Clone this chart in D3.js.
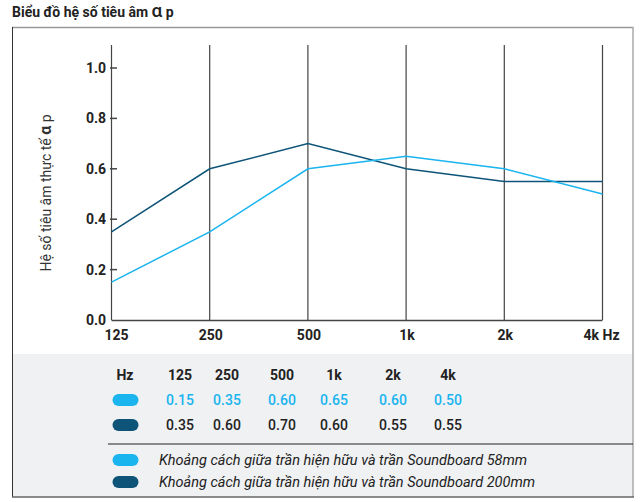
<!DOCTYPE html>
<html><head><meta charset="utf-8">
<script src="https://cdn.jsdelivr.net/npm/d3@7"></script>
<style>
html,body{margin:0;padding:0;background:#fff;}
svg{display:block;font-family:Roboto,"Noto Sans",sans-serif;}
</style></head>
<body>
<svg id="c" width="641" height="502"></svg>
<script>
const freqs = ["125","250","500","1k","2k","4k"];
const axisLabels = ["125","250","500","1k","2k","4k Hz"];
const series58 = [0.15,0.35,0.60,0.65,0.60,0.50];
const series200 = [0.35,0.60,0.70,0.60,0.55,0.55];
const yTicks = [0,0.2,0.4,0.6,0.8,1.0];
const legendLabels = ["Khoảng cách giữa trần hiện hữu và trần Soundboard 58mm","Khoảng cách giữa trần hiện hữu và trần Soundboard 200mm"];
const colors = ["#1ab4ef","#0d5478"];

const svg = d3.select("#c");
// title
const t = svg.append("text").attr("x",12).attr("y",17).attr("font-size",14).attr("font-weight",700).attr("fill","#222");
t.append("tspan").text("Biểu đồ hệ số tiêu âm ");
t.append("tspan").attr("font-size",19).attr("font-weight",500).text("α");
t.append("tspan").text(" p");

// gray panel
svg.append("rect").attr("x",12).attr("y",354).attr("width",621).attr("height",143).attr("fill","#f0f1f3");
// frame
svg.append("line").attr("x1",12).attr("x2",633.5).attr("y1",27.5).attr("y2",27.5).attr("stroke","#999").attr("stroke-width",1.5);
svg.append("line").attr("x1",633).attr("x2",633).attr("y1",27).attr("y2",497).attr("stroke","#aaa").attr("stroke-width",1.5);
svg.append("line").attr("x1",12.5).attr("x2",12.5).attr("y1",27).attr("y2",497).attr("stroke","#333").attr("stroke-width",1);
svg.append("line").attr("x1",12).attr("x2",634).attr("y1",497).attr("y2",497).attr("stroke","#666").attr("stroke-width",1.5);

const x = d3.scalePoint().domain(freqs).range([111.5,602.5]);
const y = d3.scaleLinear().domain([0,1]).range([320,68]);

const g = svg.append("g");
// vertical grid lines
g.selectAll(".vl").data(freqs).join("line")
  .attr("x1",d=>x(d)).attr("x2",d=>x(d)).attr("y1",45).attr("y2",320)
  .attr("stroke","#444").attr("stroke-width",1.2);
// bottom axis line
g.append("line").attr("x1",x("125")).attr("x2",x("4k")).attr("y1",320.5).attr("y2",320.5).attr("stroke","#444").attr("stroke-width",1.5);

// y axis
const ya = d3.axisLeft(y).tickValues(yTicks).tickFormat(d3.format(".1f")).tickSize(0).tickPadding(0);
const yg = g.append("g").attr("transform","translate(106,0)").call(ya);
yg.select(".domain").remove();
yg.selectAll("text").attr("font-size",14).attr("font-weight",700).attr("fill","#222").attr("font-family","Roboto");
g.selectAll(".yt").data(yTicks.filter(d=>d>0)).join("line")
  .attr("x1",110).attr("x2",117).attr("y1",d=>y(d)).attr("y2",d=>y(d)).attr("stroke","#444").attr("stroke-width",1.5);

// x labels
g.selectAll(".xl").data(freqs).join("text")
  .attr("x",(d,i)=> i===0 ? x(d)+5 : (i===5 ? x(d)+17 : x(d)+1))
  .attr("y",340).attr("text-anchor",(d,i)=> i===5 ? "end":"middle")
  .attr("font-size",14).attr("font-weight",700).attr("fill","#222")
  .text((d,i)=>axisLabels[i]);

// y title
const yt = svg.append("text").attr("transform","translate(51,193) rotate(-90)")
  .attr("text-anchor","middle").attr("font-size",14).attr("fill","#333");
yt.append("tspan").text("Hệ số tiêu âm thực tế ");
yt.append("tspan").attr("font-weight",700).attr("font-size",16).text("α");
yt.append("tspan").text(" p");

// lines
const line = d3.line().x((d,i)=>x(freqs[i])).y(d=>y(d));
[series200, series58].forEach((s,k)=>{
  g.append("path").attr("d",line(s)).attr("fill","none")
   .attr("stroke", k===0 ? colors[1] : colors[0]).attr("stroke-width",1.5);
});

// table
const cols = [180,227,282,334,393,448];
svg.append("text").attr("x",125).attr("y",380).attr("text-anchor","middle").attr("font-size",14).attr("font-weight",700).attr("fill","#222").text("Hz");
svg.selectAll(".th").data(freqs).join("text").attr("x",(d,i)=>cols[i]).attr("y",380)
  .attr("text-anchor","middle").attr("font-size",14).attr("font-weight",700).attr("fill","#222").text(d=>d);
const rows = [series58, series200];
rows.forEach((s,r)=>{
  const yy = 405 + r*25;
  svg.append("rect").attr("x",112.5).attr("y",yy-11).attr("width",26).attr("height",12).attr("rx",6).attr("fill",colors[r]);
  svg.selectAll(".tv"+r).data(s).join("text").attr("x",(d,i)=>cols[i]).attr("y",yy)
    .attr("text-anchor","middle").attr("font-size",14).attr("font-weight",500)
    .attr("fill", r===0 ? colors[0] : "#222").text(d=>d3.format(".2f")(d));
});
// separator
svg.append("line").attr("x1",108).attr("x2",633).attr("y1",444).attr("y2",444).attr("stroke","#222").attr("stroke-width",1);
// legend
legendLabels.forEach((l,i)=>{
  const yy = 460 + i*22;
  svg.append("rect").attr("x",112.5).attr("y",yy-6).attr("width",26).attr("height",12).attr("rx",6).attr("fill",colors[i]);
  svg.append("text").attr("x",159).attr("y",yy+5).attr("font-size",14.5).attr("font-style","italic").attr("fill","#222").text(l);
});
</script>
</body></html>
